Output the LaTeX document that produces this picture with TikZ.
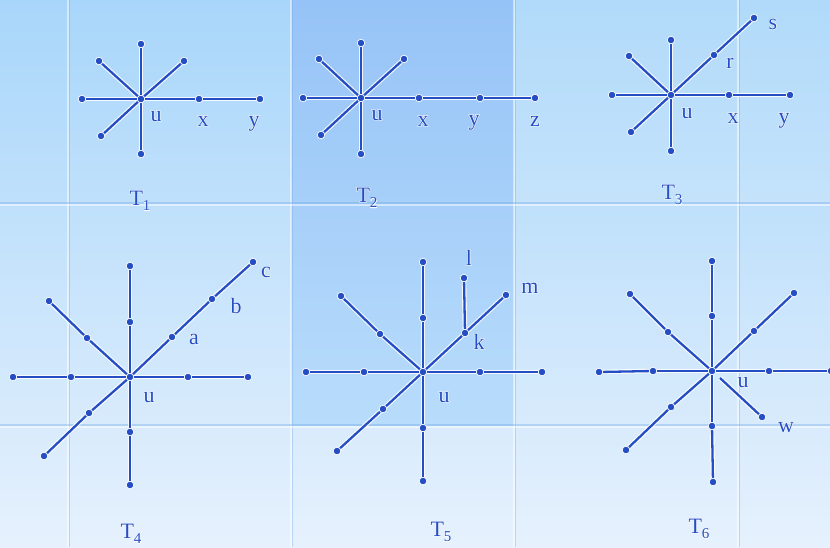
\documentclass[tikz,border=0pt]{standalone}
\usepackage{fontspec}
\setmainfont{Liberation Serif}
\begin{document}
\begin{tikzpicture}[x=1pt,y=-1pt,
  dot/.style={circle,fill=lineblue,draw=white,line width=0.7pt,inner sep=0pt,minimum size=7.6pt},
  halo/.style={draw=white,line width=4.6pt,opacity=0.85},
  edge/.style={draw=lineblue,line width=2.3pt},
  lbl/.style={text=lineblue,anchor=base,inner sep=0pt,font=\fontsize{22}{22}\selectfont},
  gridw/.style={draw=white,line width=1.6pt,opacity=0.5},
  gridb/.style={draw=bluegrid,line width=1.2pt,opacity=0.4}]
\definecolor{lineblue}{RGB}{38,78,196}
\definecolor{bgtop}{RGB}{168,214,250}
\definecolor{bgbot}{RGB}{230,241,253}
\definecolor{midtop}{RGB}{150,195,247}
\definecolor{midbot}{RGB}{184,220,251}
\definecolor{bluegrid}{RGB}{120,170,235}
\newcommand\halo[1]{\leavevmode\rlap{\textcolor{white}{\addfontfeature{FakeBold=4}#1}}#1}
\newcommand\Tlab[1]{\halo{T\raisebox{-0.27em}{\fontsize{15}{15}\selectfont #1}}}
\useasboundingbox (0,0) rectangle (830,547);
% background
\shade[top color=bgtop,bottom color=bgbot] (0,0) rectangle (830,547);
\shade[top color=midtop,bottom color=midbot] (291,0) rectangle (514,425);
\shade[top color=bgtop!80!white,bottom color=bgtop!60!white,opacity=0.5] (514,0) rectangle (830,203);
\foreach \gx in {68,291,514,738} {\draw[gridw] (\gx,0) -- (\gx,547); \draw[gridb] (\gx+1.5,0) -- (\gx+1.5,547);}
\foreach \gy in {203,425} {\draw[gridb] (0,\gy) -- (830,\gy); \draw[gridw] (0,\gy+2) -- (830,\gy+2);}
% ---------- T1
\node[dot] (t1u) at (141,99) {};
\node[dot] (t1N) at (141,44) {};
\node[dot] (t1S) at (141,154) {};
\node[dot] (t1W) at (82,99) {};
\node[dot] (t1X) at (199,99) {};
\node[dot] (t1Y) at (260,99) {};
\node[dot] (t1NW) at (99,61) {};
\node[dot] (t1NE) at (184,61) {};
\node[dot] (t1SW) at (101,136) {};
% ---------- T2
\node[dot] (t2u) at (361,98) {};
\node[dot] (t2N) at (361,43) {};
\node[dot] (t2S) at (361,154) {};
\node[dot] (t2W) at (303,98) {};
\node[dot] (t2X) at (419,98) {};
\node[dot] (t2Y) at (480,98) {};
\node[dot] (t2Z) at (535,98) {};
\node[dot] (t2NW) at (319,59) {};
\node[dot] (t2NE) at (404,59) {};
\node[dot] (t2SW) at (321,135) {};
% ---------- T3
\node[dot] (t3u) at (671,95) {};
\node[dot] (t3N) at (671,40) {};
\node[dot] (t3S) at (671,151) {};
\node[dot] (t3W) at (612,95) {};
\node[dot] (t3X) at (729,95) {};
\node[dot] (t3Y) at (790,95) {};
\node[dot] (t3NW) at (629,56) {};
\node[dot] (t3SW) at (631,132) {};
\node[dot] (t3R) at (714,55) {};
\node[dot] (t3Sn) at (754,18) {};
% ---------- T4
\node[dot] (t4u) at (130,377) {};
\node[dot] (t4N) at (130,266) {};
\node[dot] (t4N1) at (130,322) {};
\node[dot] (t4S1) at (130,432) {};
\node[dot] (t4S) at (130,485) {};
\node[dot] (t4W) at (13,377) {};
\node[dot] (t4W1) at (71,377) {};
\node[dot] (t4E1) at (188,377) {};
\node[dot] (t4E) at (248,377) {};
\node[dot] (t4NW) at (49,301) {};
\node[dot] (t4NW1) at (87,338) {};
\node[dot] (t4A) at (172,337) {};
\node[dot] (t4B) at (212,299) {};
\node[dot] (t4C) at (253,262) {};
\node[dot] (t4SW1) at (89,413) {};
\node[dot] (t4SW) at (44,456) {};
% ---------- T5
\node[dot] (t5u) at (423,372) {};
\node[dot] (t5N) at (423,262) {};
\node[dot] (t5N1) at (423,318) {};
\node[dot] (t5S1) at (423,428) {};
\node[dot] (t5S) at (423,481) {};
\node[dot] (t5W) at (306,372) {};
\node[dot] (t5W1) at (364,372) {};
\node[dot] (t5E1) at (480,372) {};
\node[dot] (t5E) at (542,372) {};
\node[dot] (t5NW) at (341,296) {};
\node[dot] (t5NW1) at (380,334) {};
\node[dot] (t5K) at (465,333) {};
\node[dot] (t5M) at (506,295) {};
\node[dot] (t5L) at (464,278) {};
\node[dot] (t5SW1) at (383,409) {};
\node[dot] (t5SW) at (337,451) {};
% ---------- T6
\node[dot] (t6u) at (712,371) {};
\node[dot] (t6N) at (712,261) {};
\node[dot] (t6N1) at (712,316) {};
\node[dot] (t6S1) at (712,426) {};
\node[dot] (t6S) at (713,482) {};
\node[dot] (t6W) at (599,372) {};
\node[dot] (t6W1) at (653,371) {};
\node[dot] (t6E1) at (769,371) {};
\node[dot] (t6E) at (831,371) {};
\node[dot] (t6NW) at (630,294) {};
\node[dot] (t6NW1) at (668,332) {};
\node[dot] (t6NE1) at (754,331) {};
\node[dot] (t6NE) at (794,293) {};
\node[dot] (t6SW1) at (671,407) {};
\node[dot] (t6SW) at (626,450) {};
\node[dot] (t6Wn) at (762,417) {};
\coordinate (t6W0) at (720,378);
% edges
\def\edgelist{t1u/t1N,t1u/t1S,t1u/t1W,t1u/t1X,t1X/t1Y,t1u/t1NW,t1u/t1NE,t1u/t1SW,
t2u/t2N,t2u/t2S,t2u/t2W,t2u/t2X,t2X/t2Y,t2Y/t2Z,t2u/t2NW,t2u/t2NE,t2u/t2SW,
t3u/t3N,t3u/t3S,t3u/t3W,t3u/t3X,t3X/t3Y,t3u/t3NW,t3u/t3SW,t3u/t3R,t3R/t3Sn,
t4u/t4N1,t4N1/t4N,t4u/t4S1,t4S1/t4S,t4u/t4W1,t4W1/t4W,t4u/t4E1,t4E1/t4E,t4u/t4NW1,t4NW1/t4NW,t4u/t4A,t4A/t4B,t4B/t4C,t4u/t4SW1,t4SW1/t4SW,
t5u/t5N1,t5N1/t5N,t5u/t5S1,t5S1/t5S,t5u/t5W1,t5W1/t5W,t5u/t5E1,t5E1/t5E,t5u/t5NW1,t5NW1/t5NW,t5u/t5K,t5K/t5M,t5K/t5L,t5u/t5SW1,t5SW1/t5SW,
t6u/t6N1,t6N1/t6N,t6u/t6S1,t6S1/t6S,t6u/t6W1,t6W1/t6W,t6u/t6E1,t6E1/t6E,t6u/t6NW1,t6NW1/t6NW,t6u/t6NE1,t6NE1/t6NE,t6u/t6SW1,t6SW1/t6SW,t6W0/t6Wn}
\foreach \a/\b in \edgelist {\draw[halo] (\a) -- (\b);}
\foreach \a/\b in \edgelist {\draw[edge] (\a) -- (\b);}
% labels
\node[lbl] (l1u) at (156,121) {\halo{u}};
\node[lbl] (l1x) at (203,126) {\halo{x}};
\node[lbl] (l1y) at (254,126) {\halo{y}};
\node[lbl] (l1T) at (140,205) {\Tlab{1}};
\node[lbl] (l2u) at (377,120) {\halo{u}};
\node[lbl] (l2x) at (423,126) {\halo{x}};
\node[lbl] (l2y) at (474,125) {\halo{y}};
\node[lbl] (l2z) at (535,126) {\halo{z}};
\node[lbl] (l2T) at (367,202) {\Tlab{2}};
\node[lbl] (l3u) at (687,118) {\halo{u}};
\node[lbl] (l3x) at (733,123) {\halo{x}};
\node[lbl] (l3y) at (784,123) {\halo{y}};
\node[lbl] (l3r) at (730,68) {\halo{r}};
\node[lbl] (l3s) at (773,29) {\halo{s}};
\node[lbl] (l3T) at (672,199) {\Tlab{3}};
\node[lbl] (l4u) at (149,402) {\halo{u}};
\node[lbl] (l4a) at (194,344) {\halo{a}};
\node[lbl] (l4b) at (236,313) {\halo{b}};
\node[lbl] (l4c) at (266,277) {\halo{c}};
\node[lbl] (l4T) at (131,538) {\Tlab{4}};
\node[lbl] (l5l) at (469,265) {\halo{l}};
\node[lbl] (l5m) at (530,293) {\halo{m}};
\node[lbl] (l5k) at (479,349) {\halo{k}};
\node[lbl] (l5u) at (444,402) {\halo{u}};
\node[lbl] (l5T) at (441,536) {\Tlab{5}};
\node[lbl] (l6u) at (743,387) {\halo{u}};
\node[lbl] (l6w) at (786,432) {\halo{w}};
\node[lbl] (l6T) at (699,533) {\Tlab{6}};
\end{tikzpicture}
\end{document}
